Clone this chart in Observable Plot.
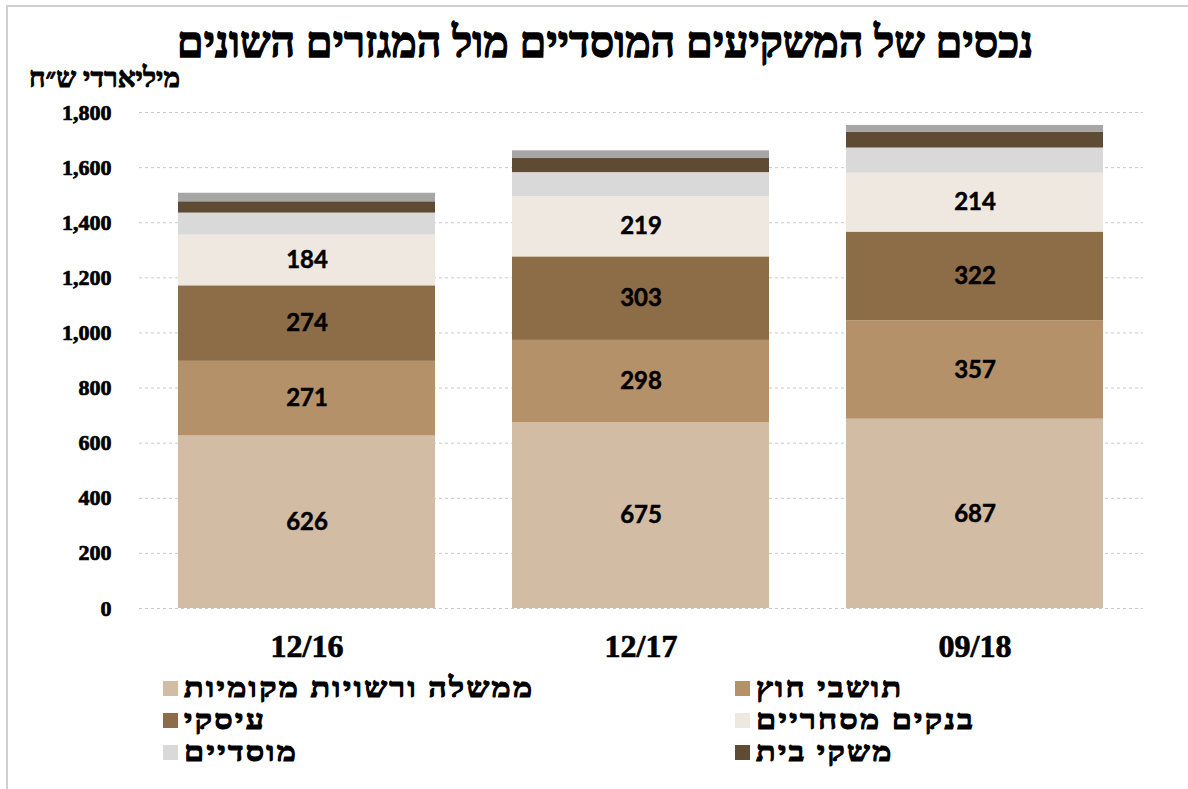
<!DOCTYPE html>
<html><head><meta charset="utf-8">
<script src="https://cdn.jsdelivr.net/npm/d3@7"></script>
<script src="https://cdn.jsdelivr.net/npm/@observablehq/plot@0.6"></script>
<style>
body{margin:0;background:#fff;font-family:"Liberation Serif",serif;}
#wrap{position:relative;width:1188px;height:789px;overflow:hidden;}
#frame{position:absolute;left:6px;top:5px;width:1300px;height:900px;border-left:2px solid #d0d0d0;border-top:2px solid #d0d0d0;}
#title{position:absolute;left:0;width:1210px;top:18px;text-align:center;font-weight:bold;font-size:43px;direction:rtl;-webkit-text-stroke:1.3px #000;}
#unit{position:absolute;right:1008px;top:62px;font-weight:bold;font-size:28px;direction:rtl;white-space:nowrap;-webkit-text-stroke:0.9px #000;}
#chart{position:absolute;left:0;top:90px;}
#chart g[aria-label="y-axis tick label"] text, #chart g[aria-label="x-axis tick label"] text{stroke:#000;stroke-width:0.7px;}
#chart g[aria-label="text"] text{stroke:#000;stroke-width:0.5px;}
.leg{position:absolute;display:flex;align-items:center;font-weight:bold;font-size:28px;white-space:nowrap;height:32px;line-height:32px;}
.leg .sw{width:15px;height:15px;margin-right:6px;flex:none;}
.leg span{direction:rtl;-webkit-text-stroke:1.1px #000;letter-spacing:2px;line-height:32px;display:block;height:32px;transform:scaleX(1.15);transform-origin:left center;}
</style></head>
<body><div id="wrap"><div id="frame"></div>
<div id="title">נכסים של המשקיעים המוסדיים מול המגזרים השונים</div>
<div id="unit">מיליארדי ש״ח</div>
<div id="chart"></div>
<div id="legend"></div>
</div>
<script>
const periods = ["12/16", "12/17", "09/18"];
const seriesNames = ["ממשלה ורשויות מקומיות", "תושבי חוץ", "עיסקי", "בנקים מסחריים", "מוסדיים", "משקי בית", "אחר"];
const seriesColors = ["#d2bca3", "#b59169", "#8c6d47", "#efe8e1", "#d9d9d9", "#5f4a33", "#a6a6a6"];
const government = [626, 675, 687];
const foreign = [271, 298, 357];
const business = [274, 303, 322];
const banks = [184, 219, 214];
const institutional = [80, 87, 91];
const households = [41, 51, 58];
const other = [31, 28, 24];
const yTicks = [0, 200, 400, 600, 800, 1000, 1200, 1400, 1600, 1800];
const labeledSeries = ["ממשלה ורשויות מקומיות", "תושבי חוץ", "עיסקי", "בנקים מסחריים"];
const legendItems = [
  {name: "ממשלה ורשויות מקומיות", col: 0, row: 0},
  {name: "תושבי חוץ", col: 1, row: 0},
  {name: "עיסקי", col: 0, row: 1},
  {name: "בנקים מסחריים", col: 1, row: 1},
  {name: "מוסדיים", col: 0, row: 2},
  {name: "משקי בית", col: 1, row: 2}
];

const valuesBySeries = [government, foreign, business, banks, institutional, households, other];
const rows = [];
seriesNames.forEach((s, i) => periods.forEach((p, j) => rows.push({period: p, series: s, value: valuesBySeries[i][j]})));

const chart = Plot.plot({
  width: 1188,
  height: 578,
  marginLeft: 139,
  marginRight: 45,
  marginTop: 22,
  marginBottom: 60,
  style: {fontFamily: "Liberation Serif, serif", fontWeight: "bold", color: "#000", background: "transparent"},
  x: {domain: periods, paddingInner: 0.23, paddingOuter: 0.115, label: null},
  y: {domain: [0, 1800], label: null},
  color: {domain: seriesNames, range: seriesColors},
  marks: [
    Plot.ruleY(yTicks, {stroke: "#c8c8c8", strokeDasharray: "3,3", strokeWidth: 1}),
    Plot.barY(rows, Plot.stackY({x: "period", y: "value", fill: "series", order: null, inset: 0})),
    Plot.text(rows, Plot.stackY({filter: d => labeledSeries.includes(d.series), x: "period", y: "value", z: "series", text: d => String(d.value), fontSize: 24, fontWeight: "bold", fontFamily: "Lato, sans-serif", fill: "#000"})),
    Plot.axisY({ticks: yTicks, tickSize: 0, tickPadding: 28, tickFormat: d3.format(","), fontSize: 22, label: null}),
    Plot.axisX({tickSize: 0, tickPadding: 26, fontSize: 32, label: null})
  ]
});
document.getElementById("chart").appendChild(chart);

const legend = document.getElementById("legend");
const colX = [163, 735];
const rowY = [672, 704, 736];
legendItems.forEach(it => {
  const d = document.createElement("div");
  d.className = "leg";
  d.style.left = colX[it.col] + "px";
  d.style.top = rowY[it.row] + "px";
  const sw = document.createElement("div");
  sw.className = "sw";
  sw.style.background = seriesColors[seriesNames.indexOf(it.name)];
  const t = document.createElement("span");
  t.textContent = it.name;
  d.appendChild(sw); d.appendChild(t);
  legend.appendChild(d);
});
</script></body></html>
